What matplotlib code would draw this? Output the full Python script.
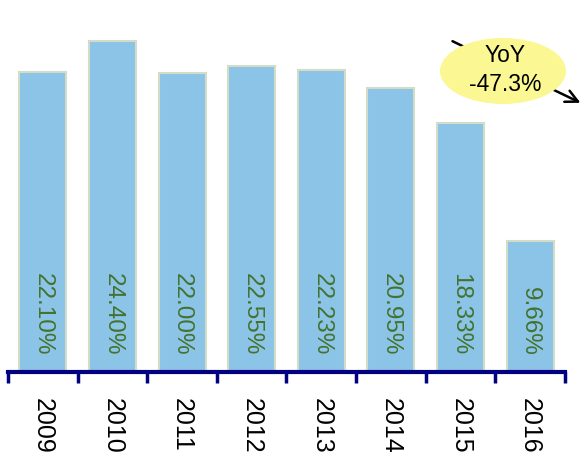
import matplotlib.pyplot as plt
from matplotlib.patches import Ellipse, FancyArrowPatch

years = ['2009', '2010', '2011', '2012', '2013', '2014', '2015', '2016']
margin = [22.10, 24.40, 22.00, 22.55, 22.23, 20.95, 18.33, 9.66]
labels = ['22.10%', '24.40%', '22.00%', '22.55%', '22.23%', '20.95%', '18.33%', '9.66%']
note = 'YoY\n-47.3%'

plt.rcParams['font.family'] = ['Liberation Sans', 'DejaVu Sans']

fig = plt.figure(figsize=(5.85, 4.53), dpi=100)
ax = fig.add_axes([8 / 585, 81 / 453, 557 / 585, 372 / 453])

x = range(len(years))
ax.bar(x, margin, width=0.675, color='#8BC4E6', edgecolor='#D3DCC6', linewidth=1.5)

# value labels written downwards inside each bar
for i, lab in enumerate(labels):
    ax.text(i, 1.2, lab, rotation=270, ha='center', va='bottom',
            fontsize=17.5, color='#44722F')

ax.set_xlim(-0.5, 7.5)
ax.set_ylim(0, 27.4)
ax.set_xticks([i - 0.5 for i in range(len(years) + 1)])
ax.set_xticklabels([])
ax.set_xticks(list(x), minor=True)
ax.set_xticklabels(years, minor=True, rotation=270, fontsize=18)
ax.tick_params(axis='x', which='major', direction='out', length=8, width=2.5,
               color='#000080')
ax.tick_params(axis='x', which='minor', length=0, pad=19)
ax.set_yticks([])
for s in ['top', 'right', 'left']:
    ax.spines[s].set_visible(False)
ax.spines['bottom'].set_color('#000080')
ax.spines['bottom'].set_linewidth(3)

# YoY bubble with arrow passing behind it
arrow = FancyArrowPatch((450 / 585, 1 - 40 / 453), (583 / 585, 1 - 104 / 453),
                        transform=fig.transFigure, arrowstyle='->',
                        mutation_scale=22, lw=1.8, color='black', zorder=5)
fig.add_artist(arrow)
bubble = Ellipse((503 / 585, 1 - 71 / 453), 126 / 585, 66 / 453,
                 transform=fig.transFigure, facecolor='#FBF793',
                 edgecolor='none', zorder=6)
fig.add_artist(bubble)
fig.text(505 / 585, 1 - 70 / 453, note, ha='center', va='center',
         fontsize=16.5, linespacing=1.3, zorder=7)

fig.savefig('out.png', dpi=100)
